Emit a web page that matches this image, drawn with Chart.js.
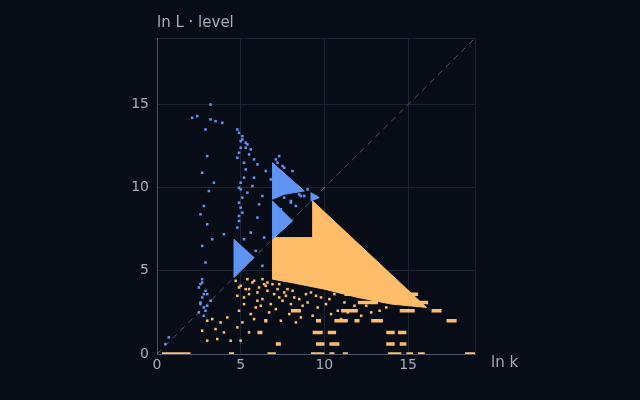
<!DOCTYPE html>
<html><head><meta charset="utf-8">
<script src="https://cdn.jsdelivr.net/npm/chart.js@4"></script>
<style>html,body{margin:0;background:#070c17}</style>
</head><body>
<div style="width:640px;height:400px"><canvas id="c"></canvas></div>
<script>
// solid regions (polygon vertices, data units)
var blueTriA = [[4.6,4.6],[4.6,6.9],[5.8,5.8],[4.6,4.6]];
var blueTriB = [[6.9,6.9],[6.9,9.2],[8.1,8.0],[6.9,6.9]];
var blueTriUp = [[6.9,9.3],[6.9,11.5],[8.8,9.8],[7.6,9.6],[6.9,9.3]];
var blueTriC = [[9.2,9.2],[9.2,9.7],[9.7,9.4],[9.2,9.2]];
var orangeMain = [[9.3,9.2],[16.1,2.8],[14.0,3.0],[12.0,3.4],[10.0,3.9],[8.0,4.3],[6.9,4.5],[6.9,7.0],[9.3,7.0],[9.3,9.2]];

// sparse blue points
var blueX = [0.5,0.7,2.5,2.6,2.7,2.8,2.9,2.6,2.7,3.0,2.5,2.8,3.2,2.7,2.9,3.3,3.0,2.6,2.8,3.1,3.4,2.7,3.0,2.9,3.2,2.1,2.4,3.2,3.5,3.9,4.0,4.8,4.9,5.0,5.1,4.9,5.2,5.3,4.8,5.0,5.1,4.9,5.4,5.0,4.9,5.2,5.6,6.0,6.3,5.8,6.5,5.5,6.0,5.3,5.7,6.1,6.8,7.3,7.6,7.9,8.2,8.5,7.4,8.0,7.7,8.3,7.2,7.5,8.6,6.3,5.9,6.4,2.6,2.8,3.0,2.7,2.9,4.9,5.0,5.1,4.8,5.2,5.0,4.9,5.1,5.3,5.6,5.8,5.4,7.8,8.1,7.5,8.4,7.1,7.3,7.0,7.6,8.0,8.8,9.0];
var blueY = [0.6,1.0,2.5,3.0,3.4,2.8,3.8,4.2,4.5,3.6,4.0,2.3,3.2,6.5,5.5,6.9,7.8,8.4,8.9,9.8,10.3,10.9,11.9,13.5,15.0,14.2,14.3,14.1,14.0,13.9,7.2,7.6,8.3,8.8,9.4,10.0,10.6,11.1,11.8,12.4,12.9,13.3,12.6,9.9,8.0,6.9,7.3,8.2,9.5,10.6,11.0,12.0,11.4,12.7,10.1,9.0,10.5,10.9,11.2,10.3,9.9,9.6,8.7,9.1,10.0,8.9,11.5,10.7,9.5,5.3,6.2,7.0,3.1,3.6,2.9,4.3,2.6,12.1,12.8,13.1,13.5,11.5,10.3,9.1,8.5,12.4,12.3,11.7,9.7,10.4,11.0,11.3,10.1,11.7,11.9,9.0,9.4,9.2,9.5,9.9];

// orange scattered points (below main block)
var orangeX = [4.7,5.0,5.3,5.7,6.1,6.4,4.8,5.5,6.0,6.6,5.2,5.9,6.3,4.9,5.6,6.2,6.8,5.1,5.8,4.8,3.0,3.3,3.8,4.2,2.7,3.5,4.0,4.4,3.0,3.6,5.0,5.5,7.3,7.8,8.4,8.9,7.5,8.2,9.0,9.6,10.1,10.8,11.4,7.1,7.9,8.6,9.3,10.4,11.0,12.2,12.8,13.3,11.8,13.7,5.4,5.8,6.3,4.9,6.6,7.0,7.6,8.0,8.7,9.8,10.6,5.2,6.7,7.4,8.3,7.2,7.7,8.1,8.5,9.2,9.5,10.3,11.2,12.5,6.5,6.9,7.3,5.5,6.0];
var orangeY = [4.4,4.1,3.9,4.3,4.0,4.2,3.5,3.6,3.2,3.8,3.0,2.8,3.3,2.6,2.4,2.9,3.0,1.9,2.1,1.6,2.0,2.1,1.9,2.2,1.4,1.5,1.3,0.8,0.8,0.9,0.8,1.3,4.2,3.9,4.3,3.6,3.2,3.4,3.1,2.8,3.0,2.6,2.5,2.7,2.4,2.2,2.3,2.4,2.1,2.3,2.5,2.6,2.9,2.8,4.5,4.4,4.5,4.0,4.3,3.6,3.7,3.0,2.9,3.4,3.6,3.4,2.5,2.0,1.9,3.9,3.5,3.8,3.3,3.7,3.5,3.3,3.1,2.9,4.1,4.2,3.4,3.9,3.7];

// orange horizontal runs: y, x start, x end
var segY  = [0,0,0,0,0,0,0,0,0,0, 0.6,0.6,0.6,0.6,0.6, 1.3,1.3,1.3,1.3,1.3, 2.0,2.0,2.0,2.0,2.0,2.0, 2.6,2.6,2.6,2.6, 3.1,3.1,3.3,3.6,3.6,4.0,4.4];
var segX0 = [0.3,6.6,9.2,10.3,11.1,13.8,14.9,15.6,18.4,4.3, 9.5,10.3,13.7,14.5,7.1, 9.3,10.2,13.7,14.4,6.0, 6.4,9.5,10.6,11.8,12.8,17.3, 8.0,11.0,14.5,16.4, 12.0,15.3,13.5,11.2,14.6,13.6,12.7];
var segX1 = [2.0,7.1,10.0,10.6,11.4,14.6,15.3,16.0,19.0,4.6, 10.0,10.9,14.2,14.9,7.4, 9.9,10.7,14.2,14.9,6.3, 6.6,9.8,11.4,12.1,13.5,17.9, 8.6,12.0,15.4,17.0, 13.2,16.2,14.4,12.1,15.6,14.5,13.4];

var BLUE = '#5f94f3', ORANGE = '#ffbd69';
function poly(v, c){ return {type:'line', data:v.map(function(p){return {x:p[0],y:p[1]};}), borderColor:c, borderWidth:1, backgroundColor:c, fill:'shape', pointRadius:0, tension:0}; }
function pts(xs, ys, c){ return {type:'scatter', data:xs.map(function(x,i){return {x:x,y:ys[i]};}), backgroundColor:c, borderWidth:0, pointStyle:'rect', pointRadius:1.8}; }
var segData = [];
segY.forEach(function(y,i){ segData.push({x:segX0[i],y:y},{x:segX1[i],y:y},{x:NaN,y:NaN}); });

var titles = {id:'titles', afterDraw:function(ch){
  var c = ch.ctx, a = ch.chartArea;
  c.save(); c.fillStyle = '#a3abbb'; c.font = '15px "DejaVu Sans"';
  c.textBaseline = 'alphabetic'; c.fillText('ln L · level', a.left, 27);
  c.fillText('ln k', a.right + 16, a.bottom + 13); c.restore();
}};
function tick(v){ return v % 5 === 0 ? v : ''; }

new Chart(document.getElementById('c'), {
  data: {datasets: [
    {type:'line', data:[{x:0,y:0},{x:19,y:19}], borderColor:'rgba(150,160,180,0.5)', borderWidth:1, borderDash:[6,5], pointRadius:0},
    pts(blueX, blueY, BLUE),
    poly(blueTriA, BLUE), poly(blueTriB, BLUE), poly(blueTriUp, BLUE), poly(blueTriC, BLUE),
    poly(orangeMain, ORANGE),
    {type:'line', data:segData, borderColor:ORANGE, borderWidth:3.5, pointRadius:0, spanGaps:false},
    pts(orangeX, orangeY, ORANGE)
  ]},
  options: {
    responsive:true, maintainAspectRatio:false, animation:false,
    layout:{padding:{left:127, right:165, top:38, bottom:16}},
    plugins:{legend:{display:false}, tooltip:{enabled:false}},
    scales:{
      x:{type:'linear', min:0, max:19, afterFit:function(s){s.height=30;},
         ticks:{stepSize:5, callback:tick, color:'#a3abbb', font:{size:14, family:'DejaVu Sans'}, maxRotation:0},
         grid:{color:'#1c2433', drawTicks:false}, border:{color:'#4b5568'}},
      y:{type:'linear', min:0, max:19, afterFit:function(s){s.width=30;},
         ticks:{stepSize:5, callback:tick, color:'#a3abbb', font:{size:14, family:'DejaVu Sans'}, padding:8},
         grid:{color:'#1c2433', drawTicks:false}, border:{color:'#4b5568'}}
    }
  },
  plugins:[titles]
});
</script>
</body></html>
